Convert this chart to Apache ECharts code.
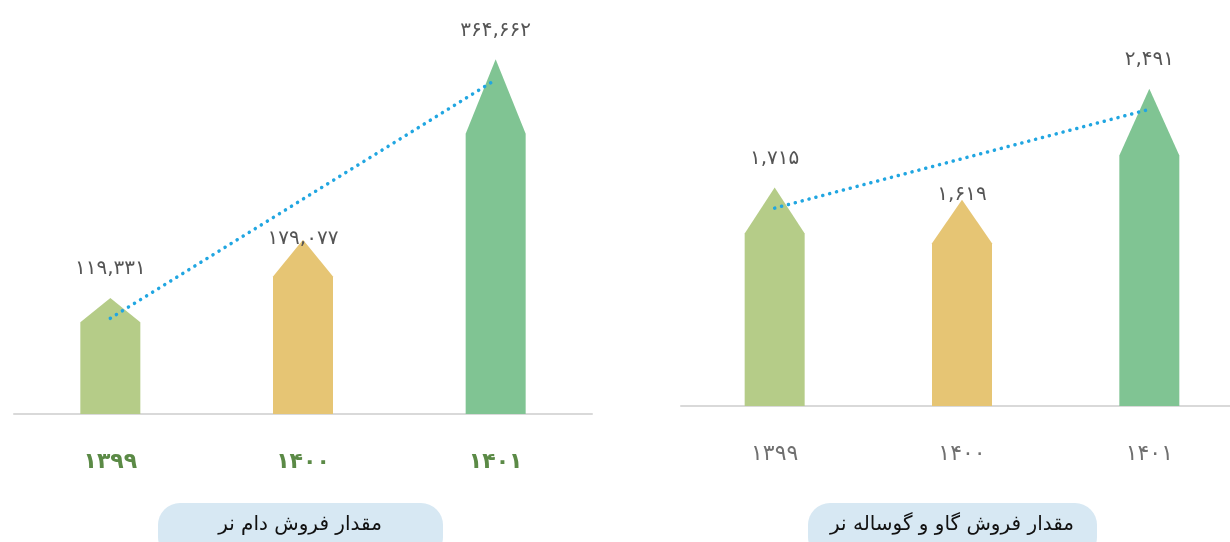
<!DOCTYPE html>
<html>
<head>
<meta charset="utf-8">
<script src="https://cdn.jsdelivr.net/npm/echarts@6/dist/echarts.min.js"></script>
<style>
  html, body { margin: 0; padding: 0; background: #fff; overflow: hidden; }
  #chart { width: 1244px; height: 542px; }
</style>
</head>
<body>
<div id="chart"></div>
<script>
// years (Persian digits as shown)
const years = ['۱۳۹۹', '۱۴۰۰', '۱۴۰۱'];

// left: livestock sales
const damValues = [119331, 179077, 364662];
const damTrend = [98400, 221000, 343700];

// right: cattle and calf sales
const gavValues = [1715, 1619, 2491];
const gavTrend = [1554, 1942, 2330];

const barColors = ['#b5cc88', '#e6c574', '#80c493'];
const titles = ['مقدار فروش دام نر', 'مقدار فروش گاو و گوساله نر'];

const faDigits = '۰۱۲۳۴۵۶۷۸۹';
function toFa(n) {
  return n.toLocaleString('en-US').replace(/\d/g, d => faDigits[d]);
}

// arrow shaped bar: triangle on top of a rectangle
const arrowPath = 'path://M0,21 L50,0 L100,21 L100,100 L0,100 Z';

function barSeries(values, idx, lowOffset) {
  return {
    type: 'pictorialBar',
    xAxisIndex: idx,
    yAxisIndex: idx,
    symbol: arrowPath,
    symbolSize: [60, '100%'],
    symbolRepeat: false,
    z: 2,
    label: {
      show: true,
      position: 'top',
      distance: 19,
      fontSize: 20,
      color: '#555',
      fontFamily: 'DejaVu Sans',
      formatter: p => toFa(p.value)
    },
    data: values.map((v, i) => ({
      value: v,
      itemStyle: { color: barColors[i] },
      label: i === 1 ? { offset: [0, lowOffset] } : undefined
    }))
  };
}

function trendSeries(values, idx) {
  return {
    type: 'line',
    xAxisIndex: idx,
    yAxisIndex: idx,
    data: values,
    symbol: 'none',
    z: 5,
    silent: true,
    lineStyle: { color: '#21a6e1', width: 3.5, type: [0.1, 7], cap: 'round' }
  };
}

const chart = echarts.init(document.getElementById('chart'));
chart.setOption({
  animation: false,
  grid: [
    { left: 14, top: 25, width: 578, bottom: 128 },
    { left: 681, top: 24, width: 562, bottom: 136 }
  ],
  xAxis: [0, 1].map(i => ({
    type: 'category',
    gridIndex: i,
    data: years,
    axisTick: { show: false },
    axisLine: { lineStyle: { color: '#d9d9d9', width: 2 } },
    axisLabel: {
      margin: 37,
      fontSize: 22,
      fontFamily: 'DejaVu Sans',
      fontWeight: i === 0 ? 'bold' : 'normal',
      color: i === 0 ? '#5b8a46' : '#707070'
    }
  })),
  yAxis: [
    { type: 'value', gridIndex: 0, min: 0, max: 400000, show: false, splitLine: { show: false } },
    { type: 'value', gridIndex: 1, min: 0, max: 3000, show: false, splitLine: { show: false } }
  ],
  series: [
    barSeries(damValues, 0, 28),
    trendSeries(damTrend, 0),
    barSeries(gavValues, 1, 24),
    trendSeries(gavTrend, 1)
  ],
  graphic: [
    {
      type: 'group', left: 158, top: 503,
      children: [
        { type: 'rect', shape: { x: 0, y: 0, width: 285, height: 56, r: 22 }, style: { fill: '#d7e8f3' } },
        { type: 'text', x: 142, y: 22, style: { text: titles[0], font: '20px "DejaVu Sans"', fill: '#111', align: 'center', verticalAlign: 'middle' } }
      ]
    },
    {
      type: 'group', left: 808, top: 503,
      children: [
        { type: 'rect', shape: { x: 0, y: 0, width: 289, height: 56, r: 22 }, style: { fill: '#d7e8f3' } },
        { type: 'text', x: 144, y: 22, style: { text: titles[1], font: '20px "DejaVu Sans"', fill: '#111', align: 'center', verticalAlign: 'middle' } }
      ]
    }
  ]
});
</script>
</body>
</html>
